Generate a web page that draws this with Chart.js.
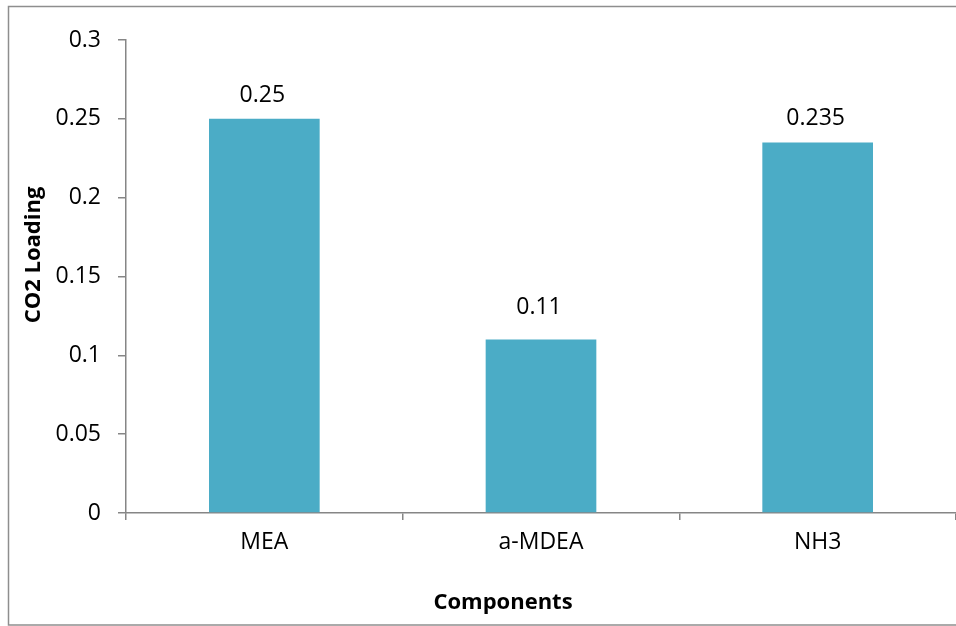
<!DOCTYPE html>
<html>
<head>
<meta charset="utf-8">
<title>CO2 Loading by Component</title>
<script src="https://cdn.jsdelivr.net/npm/chart.js@4/dist/chart.umd.min.js"></script>
<style>
  html, body { margin: 0; padding: 0; background: #ffffff; overflow: hidden; }
  #wrap { position: relative; width: 956px; height: 626px; }
</style>
</head>
<body>
<div id="wrap"><canvas id="chart" width="956" height="626"></canvas></div>
<script>
// Chart data
const categories = ['MEA', 'a-MDEA', 'NH3'];
const co2Loading = [0.25, 0.11, 0.235];
const valueLabels = ['0.25', '0.11', '0.235'];
const yTickLabels = ['0', '0.05', '0.1', '0.15', '0.2', '0.25', '0.3'];
const xAxisTitle = 'Components';
const yAxisTitle = 'CO2 Loading';

const FONT = '"Open Sans", "Noto Sans", sans-serif';
const AXIS_GREY = '#868686';

// Frame, axis titles and value labels
const decorations = {
  id: 'decorations',
  beforeDraw(chart) {
    const ctx = chart.ctx;
    ctx.save();
    ctx.strokeStyle = '#8e8e8e';
    ctx.lineWidth = 1.5;
    ctx.beginPath();
    ctx.moveTo(960, 6.5);
    ctx.lineTo(8.5, 6.5);
    ctx.lineTo(8.5, 625);
    ctx.lineTo(960, 625);
    ctx.stroke();
    ctx.restore();
  },
  afterDatasetsDraw(chart, args, opts) {
    const ctx = chart.ctx;
    const meta = chart.getDatasetMeta(0);
    ctx.save();
    ctx.fillStyle = '#000000';
    ctx.font = '23px ' + FONT;
    ctx.textAlign = 'center';
    ctx.textBaseline = 'alphabetic';
    meta.data.forEach((bar, i) => {
      const lift = opts.lift[i];
      ctx.fillText(valueLabels[i], bar.x - 2, bar.y - lift);
    });

    ctx.font = 'bold 22px ' + FONT;
    ctx.textBaseline = 'middle';
    ctx.fillText(xAxisTitle, 503, 603);

    ctx.translate(34, 255);
    ctx.rotate(-Math.PI / 2);
    ctx.fillText(yAxisTitle, 0, 0);
    ctx.restore();
  }
};

new Chart(document.getElementById('chart'), {
  type: 'bar',
  data: {
    labels: categories,
    datasets: [{
      data: co2Loading,
      backgroundColor: '#4BACC6',
      borderWidth: 0,
      categoryPercentage: 1.0,
      barPercentage: 0.4
    }]
  },
  options: {
    responsive: false,
    animation: false,
    devicePixelRatio: 1,
    layout: { padding: { top: 40, right: 0, bottom: 0, left: 0 } },
    plugins: {
      legend: { display: false },
      tooltip: { enabled: false },
      decorations: { lift: [17, 26, 17] }
    },
    scales: {
      x: {
        afterFit(scale) { scale.height = 113; },
        border: { display: true, color: AXIS_GREY, width: 1.5 },
        grid: {
          display: true,
          drawOnChartArea: false,
          drawTicks: true,
          tickLength: 7,
          color: AXIS_GREY,
          lineWidth: 1.5,
          offset: true
        },
        ticks: {
          color: '#000000',
          font: { family: FONT, size: 23 },
          padding: 9,
          maxRotation: 0
        }
      },
      y: {
        min: 0,
        max: 0.3,
        afterFit(scale) { scale.width = 126; },
        border: { display: true, color: AXIS_GREY, width: 1.5 },
        grid: {
          display: true,
          drawOnChartArea: false,
          drawTicks: true,
          tickLength: 8,
          color: AXIS_GREY,
          lineWidth: 1.5
        },
        ticks: {
          stepSize: 0.05,
          color: '#000000',
          font: { family: FONT, size: 23 },
          padding: 17,
          callback: (value, index) => yTickLabels[index]
        }
      }
    }
  },
  plugins: [decorations]
});
</script>
</body>
</html>
